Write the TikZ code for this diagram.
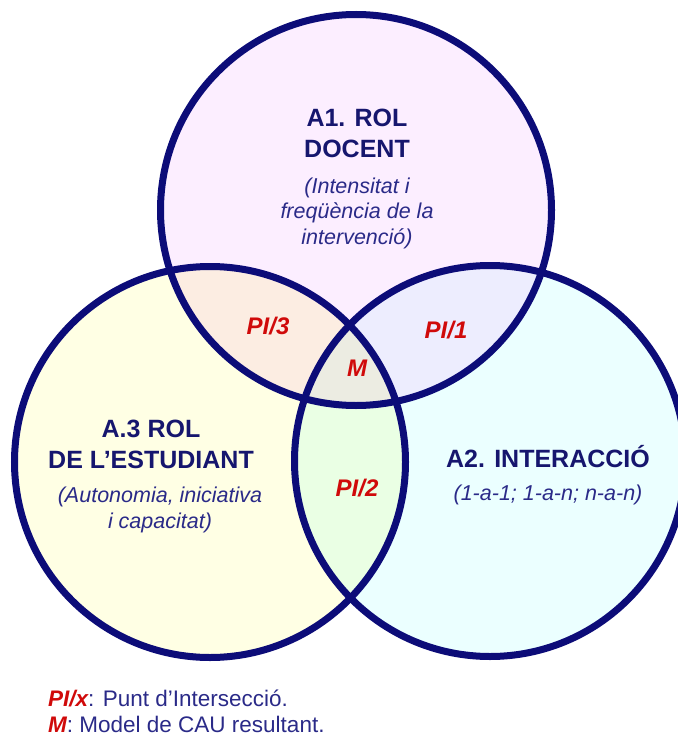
\documentclass[tikz,border=0pt]{standalone}
\usepackage{fontspec}
\setmainfont{Liberation Sans}
\definecolor{navy}{HTML}{0C0C78}
\definecolor{titlec}{HTML}{16166E}
\definecolor{subc}{HTML}{2A2A88}
\definecolor{redc}{HTML}{D00A0A}
\definecolor{fT}{HTML}{FCEEFF}
\definecolor{fL}{HTML}{FFFFE4}
\definecolor{fR}{HTML}{EBFFFF}
\definecolor{fTL}{HTML}{FCEDE2}
\definecolor{fTR}{HTML}{EDEDFE}
\definecolor{fLR}{HTML}{EAFFE4}
\definecolor{fM}{HTML}{ECECE2}
\begin{document}
\begin{tikzpicture}[x=1pt,y=-1pt,
  ring/.style={draw=navy,line width=7pt},
  ttl/.style={inner sep=0pt,align=center,text=titlec,font=\fontsize{25}{31}\selectfont\bfseries},
  sub/.style={inner sep=0pt,align=center,text=subc,font=\fontsize{21.5}{25.5}\selectfont\itshape},
  pil/.style={inner sep=0pt,text=redc,font=\fontsize{24}{28}\selectfont\bfseries\itshape},
  leg/.style={inner sep=0pt,anchor=west,text=subc,font=\fontsize{22.5}{27}\selectfont}]
\useasboundingbox (0,0) rectangle (677,738);
\def\rr{195.5pt}
\coordinate (cT) at (356,210);
\coordinate (cL) at (210,462);
\coordinate (cR) at (490,461);
% single fills
\fill[fT] (cT) circle[radius=\rr];
\fill[fL] (cL) circle[radius=\rr];
\fill[fR] (cR) circle[radius=\rr];
% pairwise
\begin{scope}
  \clip (cT) circle[radius=\rr];
  \fill[fTL] (cL) circle[radius=\rr];
  \fill[fTR] (cR) circle[radius=\rr];
\end{scope}
\begin{scope}
  \clip (cL) circle[radius=\rr];
  \fill[fLR] (cR) circle[radius=\rr];
\end{scope}
\begin{scope}
  \clip (cT) circle[radius=\rr];
  \clip (cL) circle[radius=\rr];
  \fill[fM] (cR) circle[radius=\rr];
\end{scope}
% outlines
\draw[ring] (cT) circle[radius=\rr];
\draw[ring] (cL) circle[radius=\rr];
\draw[ring] (cR) circle[radius=\rr];
% texts
\node[ttl] (t1) at (357,133) {A1. ROL\\DOCENT};
\node[sub] (s1) at (357,213) {(Intensitat i\\freqüència de la\\intervenció)};
\node[ttl] (t3) at (151,444) {A.3 ROL\\DE L’ESTUDIANT};
\node[sub] (s3) at (160,510) {(Autonomia, iniciativa\\i capacitat)};
\node[ttl] (t2) at (548,457) {A2. INTERACCIÓ};
\node[sub] (s2) at (548,495) {(1-a-1; 1-a-n; n-a-n)};
\node[pil] (p3) at (268,326) {PI/3};
\node[pil] (p1) at (446,330) {PI/1};
\node[pil] (m) at (357,368) {M};
\node[pil] (p2) at (357,488) {PI/2};
\node[leg] (l1) at (48,698) {\textcolor{redc}{\bfseries\itshape PI/x}: Punt d’Intersecció.};
\node[leg] (l2) at (48,724) {\textcolor{redc}{\bfseries\itshape M}: Model de CAU resultant.};
\end{tikzpicture}
\end{document}
